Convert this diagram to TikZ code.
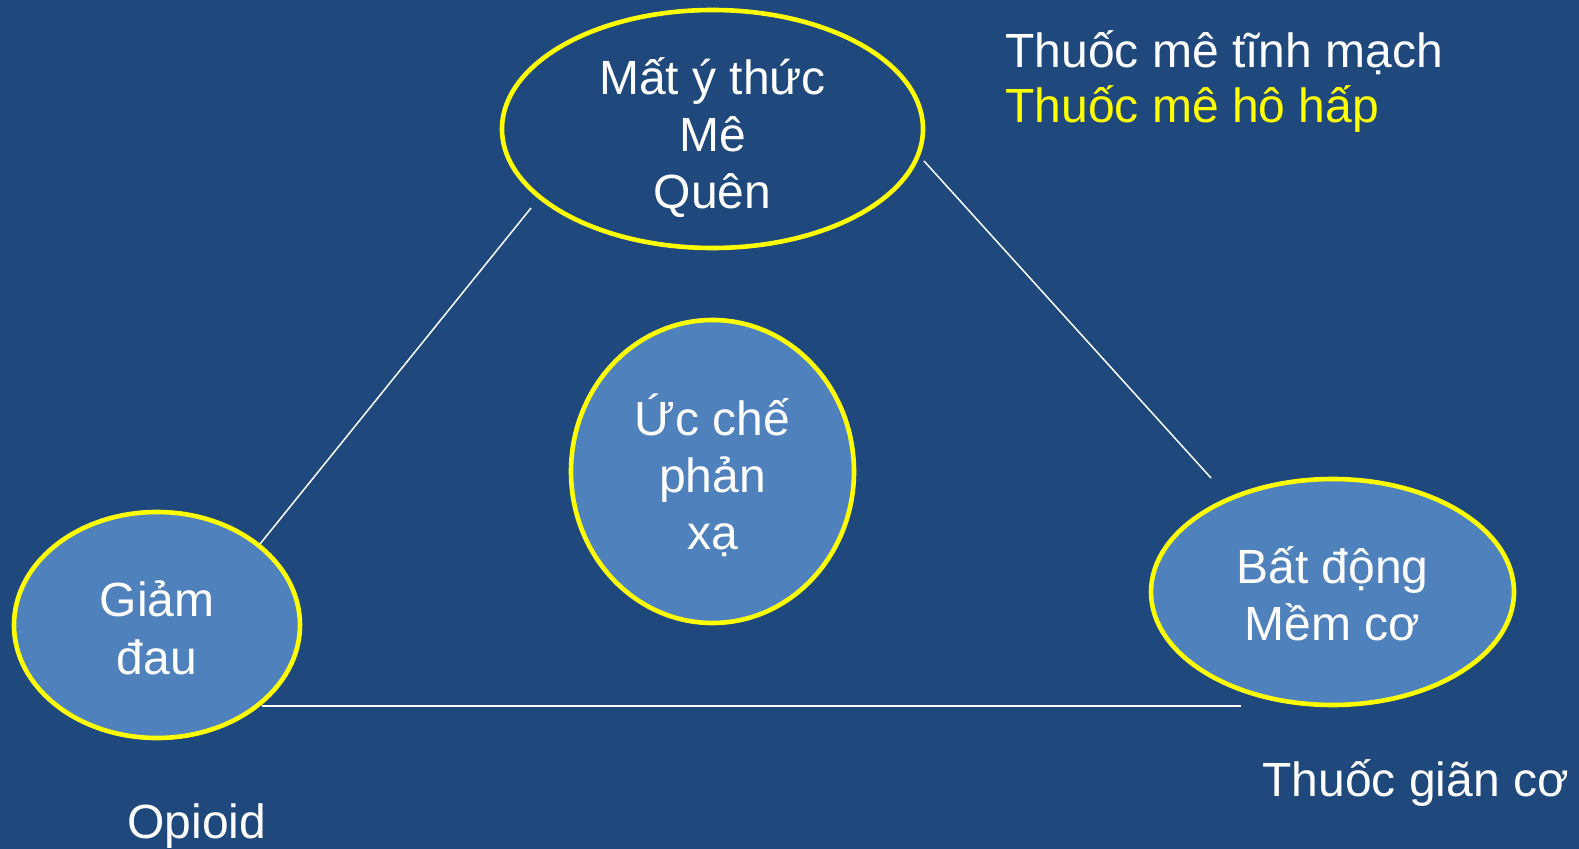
\documentclass[tikz,border=0pt]{standalone}
\usepackage{fontspec}
\setmainfont{Liberation Sans}
\usetikzlibrary{shapes.geometric,calc}
\definecolor{bgblue}{HTML}{1F497D}
\definecolor{fillblue}{HTML}{4F81BD}
\definecolor{ringyellow}{HTML}{FFFF00}
\begin{document}
\begin{tikzpicture}[x=0.5pt,y=-0.5pt,
  ring/.style={ellipse, draw=ringyellow, line width=2.3pt, inner sep=0pt, outer sep=0pt},
  conn/.style={draw=white, line width=0.75pt},
  txt/.style={text=white, font=\fontsize{24}{28.5}\selectfont, align=center, inner sep=0pt, anchor=base},
  side/.style={font=\fontsize{24}{27}\selectfont, inner sep=0pt, anchor=base west},
]
% page background
\fill[bgblue] (0,0) rectangle (1579,849);
\useasboundingbox (0,0) rectangle (1579,849);

% the four rings
\node[ring, minimum width=210.5pt, minimum height=119pt] (T) at (712.5,129) {};
\node[ring, fill=fillblue, minimum width=143pt, minimum height=113pt] (L) at (157,625) {};
\node[ring, fill=fillblue, minimum width=181.5pt, minimum height=113pt] (R) at (1332.5,592) {};
\node[ring, fill=fillblue, minimum width=141.5pt, minimum height=151.5pt] (C) at (712.5,471.5) {};

% triangle edges
\draw[conn] ($(L.center)+(103,-81)$) -- ($(T.center)+(-181.5,79)$);
\draw[conn] ($(T.center)+(211.5,32)$) -- ($(R.center)+(-121.5,-114)$);
\draw[conn] ($(L.center)+(105,81)$) -- ($(R.center)+(-91.5,114)$);

% ring texts
\node[txt] (Ttext) at (712.5,209) {Mất ý thức\\Mê\\Quên};
\node[txt] (Ltext) at (157,674) {Giảm\\đau};
\node[txt] (Rtext) at (1332.5,640) {Bất động\\Mềm cơ};
\node[txt] (Ctext) at (712.5,549.5) {Ức chế\\phản\\xạ};

% drug classes
\node[side, text=white] (iv) at (1005,68) {Thuốc mê tĩnh mạch};
\node[side, text=ringyellow] (inh) at (1005,123) {Thuốc mê hô hấp};
\node[side, text=white] (relax) at (1262,796) {Thuốc giãn cơ};
\node[side, text=white] (opi) at (127,838) {Opioid};
\end{tikzpicture}
\end{document}
